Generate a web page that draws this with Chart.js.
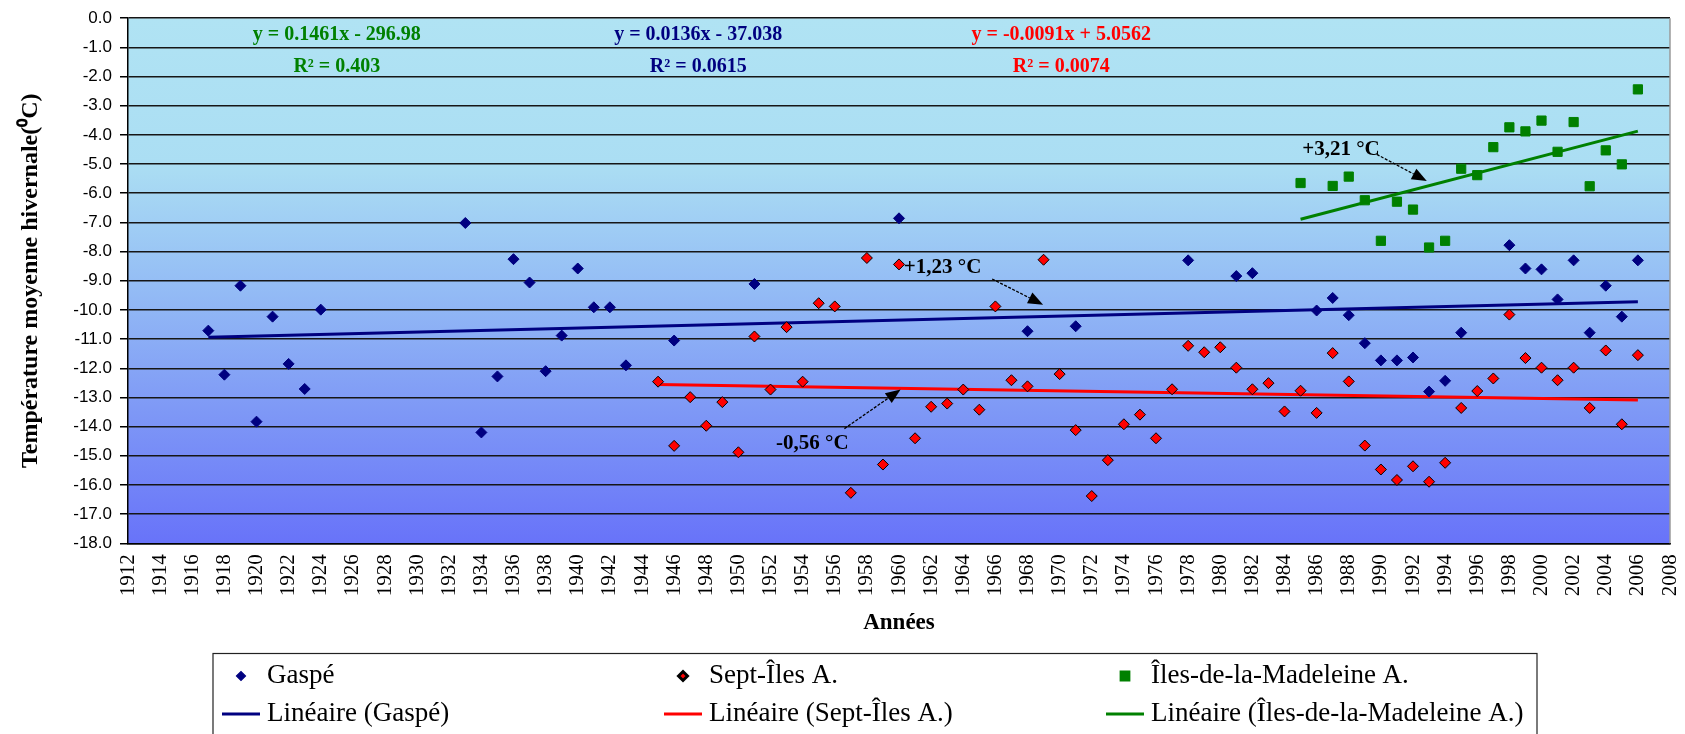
<!DOCTYPE html>
<html><head><meta charset="utf-8">
<script src="https://cdn.jsdelivr.net/npm/chart.js@4.4.0/dist/chart.umd.min.js"></script>
<style>html,body{margin:0;padding:0;background:#fff;overflow:hidden}</style>
</head><body>
<canvas id="c" width="1685" height="734" style="display:block;width:1685px;height:734px"></canvas>
<script>
// ---- Data ----
const gaspeYears = [1917,1918,1919,1920,1921,1922,1923,1924,1933,1934,1935,1936,1937,1938,1939,1940,1941,1942,1943,1946,1951,1960,1968,1971,1978,1981,1982,1986,1987,1988,1989,1990,1991,1992,1993,1994,1995,1998,1999,2000,2001,2002,2003,2004,2005,2006];
const gaspeTemps = [-10.71,-12.22,-9.17,-13.83,-10.23,-11.85,-12.71,-9.99,-7.02,-14.20,-12.28,-8.26,-9.06,-12.10,-10.88,-8.58,-9.91,-9.91,-11.90,-11.05,-9.11,-6.86,-10.73,-10.56,-8.30,-8.84,-8.74,-10.02,-9.59,-10.18,-11.14,-11.73,-11.73,-11.63,-12.80,-12.43,-10.78,-7.78,-8.58,-8.61,-9.64,-8.30,-10.78,-9.17,-10.23,-8.30];

const septYears = [1945,1946,1947,1948,1949,1950,1951,1952,1953,1954,1955,1956,1957,1958,1959,1960,1961,1962,1963,1964,1965,1966,1967,1968,1969,1970,1971,1972,1973,1974,1975,1976,1977,1978,1979,1980,1981,1982,1983,1984,1985,1986,1987,1988,1989,1990,1991,1992,1993,1994,1995,1996,1997,1998,1999,2000,2001,2002,2003,2004,2005,2006];
const septTemps = [-12.46,-14.66,-12.99,-13.97,-13.16,-14.88,-10.91,-12.73,-10.59,-12.46,-9.77,-9.88,-16.27,-8.22,-15.30,-8.44,-14.40,-13.32,-13.21,-12.73,-13.42,-9.88,-12.41,-12.62,-8.28,-12.20,-14.12,-16.38,-15.15,-13.92,-13.59,-14.40,-12.72,-11.23,-11.45,-11.28,-11.98,-12.72,-12.51,-13.48,-12.77,-13.53,-11.48,-12.45,-14.65,-15.47,-15.83,-15.36,-15.89,-15.24,-13.36,-12.78,-12.35,-10.16,-11.65,-11.98,-12.41,-11.98,-13.36,-11.39,-13.92,-11.55];

const madYears = [1985,1987,1988,1989,1990,1991,1992,1993,1994,1995,1996,1997,1998,1999,2000,2001,2002,2003,2004,2005,2006];
const madTemps = [-5.65,-5.75,-5.43,-6.24,-7.63,-6.29,-6.56,-7.86,-7.63,-5.16,-5.38,-4.42,-3.74,-3.88,-3.51,-4.58,-3.56,-5.76,-4.53,-5.01,-2.44];

const gaspeTrendYears = [1917, 2006];
const gaspeTrendTemps = [-10.94, -9.72];
const septTrendYears = [1945, 2006];
const septTrendTemps = [-12.56, -13.09];
const madTrendYears = [1985, 2006];
const madTrendTemps = [-6.89, -3.87];

const seriesNames = ['Gaspé', 'Sept-Îles A.', 'Îles-de-la-Madeleine A.'];
const trendNames = ['Linéaire (Gaspé)', 'Linéaire (Sept-Îles A.)', 'Linéaire (Îles-de-la-Madeleine A.)'];
const equationTexts = ['y = 0.1461x - 296.98', 'y = 0.0136x - 37.038', 'y = -0.0091x + 5.0562'];
const r2Texts = ['R² = 0.403', 'R² = 0.0615', 'R² = 0.0074'];
const changeTexts = ['+1,23 °C', '-0,56 °C', '+3,21 °C'];

const xTicks = [1912,1914,1916,1918,1920,1922,1924,1926,1928,1930,1932,1934,1936,1938,1940,1942,1944,1946,1948,1950,1952,1954,1956,1958,1960,1962,1964,1966,1968,1970,1972,1974,1976,1978,1980,1982,1984,1986,1988,1990,1992,1994,1996,1998,2000,2002,2004,2006,2008];
const yTicks = [0,-1,-2,-3,-4,-5,-6,-7,-8,-9,-10,-11,-12,-13,-14,-15,-16,-17,-18];
const yTickLabels = ['0.0','-1.0','-2.0','-3.0','-4.0','-5.0','-6.0','-7.0','-8.0','-9.0','-10.0','-11.0','-12.0','-13.0','-14.0','-15.0','-16.0','-17.0','-18.0'];

const pts = (xs, ys) => xs.map((x, i) => ({x: x, y: ys[i]}));

const NAVY = '#000080', RED = '#FF0000', GREEN = '#008000';
const SERIF = "'Liberation Serif', 'Times New Roman', serif";

const overlay = {
  id: 'overlay',
  beforeDraw(chart) {
    const {ctx, chartArea: a} = chart;
    ctx.save();
    ctx.fillStyle = '#fff';
    ctx.fillRect(0, 0, chart.width, chart.height);
    const g = ctx.createLinearGradient(0, a.top, 0, a.bottom);
    g.addColorStop(0, '#B0E3F3');
    g.addColorStop(0.28, '#ABDEF3');
    g.addColorStop(0.5, '#95BEF5');
    g.addColorStop(0.75, '#7E98F6');
    g.addColorStop(1, '#6873F9');
    ctx.fillStyle = g;
    ctx.fillRect(a.left, a.top, a.right - a.left, a.bottom - a.top);
    ctx.restore();
  },
  afterDraw(chart) {
    const {ctx, chartArea: a, scales: {x, y}} = chart;
    ctx.save();
    // right border of plot area
    ctx.strokeStyle = '#9a9a9a';
    ctx.lineWidth = 1.5;
    ctx.beginPath(); ctx.moveTo(a.right, a.top); ctx.lineTo(a.right, a.bottom); ctx.stroke();

    // equations
    const eqX = [1925.0, 1947.5, 1970.1];
    const eqCol = [GREEN, NAVY, RED];
    ctx.font = "bold 20px " + SERIF;
    ctx.textAlign = 'center';
    ctx.textBaseline = 'middle';
    for (let i = 0; i < 3; i++) {
      ctx.fillStyle = eqCol[i];
      ctx.fillText(equationTexts[i], x.getPixelForValue(eqX[i]), y.getPixelForValue(-0.56));
      ctx.fillText(r2Texts[i], x.getPixelForValue(eqX[i]), y.getPixelForValue(-1.65));
    }

    // change annotations with arrows
    const ann = [
      {t: changeTexts[0], tx: 1960.3, ty: -8.55, ax: 1965.8, ay: -8.94, bx: 1968.97, by: -9.82},
      {t: changeTexts[1], tx: 1952.35, ty: -14.57, ax: 1956.6, ay: -14.07, bx: 1960.1, by: -12.73},
      {t: changeTexts[2], tx: 1985.1, ty: -4.50, ax: 1989.75, ay: -4.67, bx: 1992.86, by: -5.58}
    ];
    ctx.fillStyle = '#000';
    ctx.strokeStyle = '#000';
    ctx.font = "bold 21px " + SERIF;
    ctx.textAlign = 'left';
    ann.forEach(o => {
      ctx.fillText(o.t, x.getPixelForValue(o.tx), y.getPixelForValue(o.ty));
      const x1 = x.getPixelForValue(o.ax), y1 = y.getPixelForValue(o.ay);
      const x2 = x.getPixelForValue(o.bx), y2 = y.getPixelForValue(o.by);
      const ang = Math.atan2(y2 - y1, x2 - x1), L = 15, W = 6;
      ctx.lineWidth = 1.3;
      ctx.setLineDash([3, 1.5]);
      ctx.beginPath(); ctx.moveTo(x1, y1);
      ctx.lineTo(x2 - L * Math.cos(ang), y2 - L * Math.sin(ang)); ctx.stroke();
      ctx.setLineDash([]);
      ctx.beginPath(); ctx.moveTo(x2, y2);
      ctx.lineTo(x2 - L * Math.cos(ang) + W * Math.sin(ang), y2 - L * Math.sin(ang) - W * Math.cos(ang));
      ctx.lineTo(x2 - L * Math.cos(ang) - W * Math.sin(ang), y2 - L * Math.sin(ang) + W * Math.cos(ang));
      ctx.closePath(); ctx.fill();
    });

    // legend
    const lx = 213, ly = 653.5, lw = 1537 - 213, lh = 100;
    ctx.strokeStyle = '#222';
    ctx.lineWidth = 1.2;
    ctx.strokeRect(lx, ly, lw, lh);
    ctx.font = "27px " + SERIF;
    ctx.textBaseline = 'middle';
    ctx.textAlign = 'left';
    const ds = chart.data.datasets;
    for (let i = 0; i < 3; i++) {
      const cx = 222 + i * 442;
      const d = ds[i];
      ctx.fillStyle = d.backgroundColor;
      ctx.strokeStyle = d.borderColor;
      Chart.helpers.drawPoint(ctx, {pointStyle: d.pointStyle, radius: d.pointRadius - 1, borderWidth: d.borderWidth, rotation: 0}, cx + 19, 676);
      ctx.fillStyle = '#000';
      ctx.fillText(d.label, cx + 45, 676);
      const t = ds[i + 3];
      ctx.strokeStyle = t.borderColor;
      ctx.lineWidth = 3;
      ctx.beginPath(); ctx.moveTo(cx, 714); ctx.lineTo(cx + 38, 714); ctx.stroke();
      ctx.fillStyle = '#000';
      ctx.fillText(t.label, cx + 45, 714);
    }
    ctx.restore();
  }
};

new Chart(document.getElementById('c'), {
  type: 'scatter',
  data: {
    datasets: [
      {label: seriesNames[0], data: pts(gaspeYears, gaspeTemps), pointStyle: 'rectRot', pointRadius: 5.5, backgroundColor: NAVY, borderColor: NAVY, borderWidth: 1},
      {label: seriesNames[1], data: pts(septYears, septTemps), pointStyle: 'rectRot', pointRadius: 5.5, backgroundColor: RED, borderColor: '#000', borderWidth: 1},
      {label: seriesNames[2], data: pts(madYears, madTemps), pointStyle: 'rect', pointRadius: 6.5, backgroundColor: GREEN, borderColor: GREEN, borderWidth: 1},
      {label: trendNames[0], type: 'line', data: pts(gaspeTrendYears, gaspeTrendTemps), borderColor: NAVY, backgroundColor: NAVY, borderWidth: 3, pointRadius: 0, fill: false},
      {label: trendNames[1], type: 'line', data: pts(septTrendYears, septTrendTemps), borderColor: RED, backgroundColor: RED, borderWidth: 3, pointRadius: 0, fill: false},
      {label: trendNames[2], type: 'line', data: pts(madTrendYears, madTrendTemps), borderColor: GREEN, backgroundColor: GREEN, borderWidth: 3, pointRadius: 0, fill: false}
    ]
  },
  options: {
    responsive: false,
    animation: false,
    devicePixelRatio: 1,
    layout: {padding: {top: 17, right: 15, left: 0, bottom: 0}},
    plugins: {legend: {display: false}, tooltip: {enabled: false}},
    scales: {
      x: {
        type: 'linear', min: 1912, max: 2008,
        afterBuildTicks: s => { s.ticks = xTicks.map(v => ({value: v})); },
        afterFit: s => { s.height = 190.7; s.paddingLeft = 0; s.paddingRight = 0; },
        grid: {display: false, drawTicks: false},
        border: {display: true, color: '#000', width: 1.5},
        ticks: {
          minRotation: 90, maxRotation: 90, autoSkip: false, padding: 11,
          color: '#000', font: {family: SERIF, size: 21},
          callback: v => String(v)
        },
        title: {display: true, text: 'Années', color: '#000', font: {family: SERIF, size: 23, weight: 'bold'}, padding: {top: 0, bottom: 97}}
      },
      y: {
        type: 'linear', min: -18, max: 0,
        afterBuildTicks: s => { s.ticks = yTicks.map(v => ({value: v})); },
        afterFit: s => { s.width = 128; },
        grid: {color: '#161616', lineWidth: 1.5, drawTicks: true, tickLength: 8, tickColor: '#000'},
        border: {display: true, color: '#000', width: 1.5},
        ticks: {
          padding: 8, color: '#000', font: {family: "'Liberation Sans', Arial, sans-serif", size: 17},
          callback: v => yTickLabels[yTicks.indexOf(v)]
        },
        title: {display: true, text: 'Température moyenne hivernale(⁰C)', color: '#000', font: {family: SERIF, size: 24, weight: 'bold'}, padding: {top: 16, bottom: 0}}
      }
    }
  },
  plugins: [overlay]
});
</script>
</body></html>
